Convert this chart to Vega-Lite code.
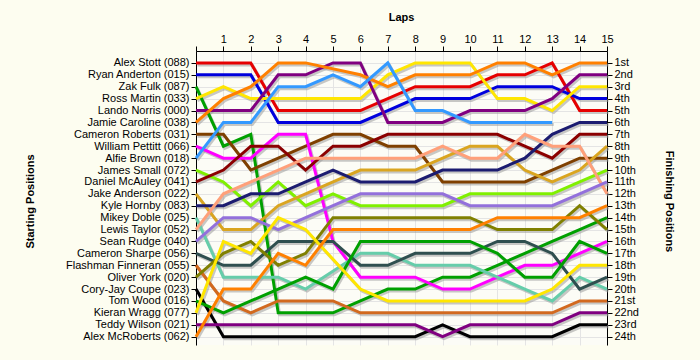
{
"$schema":"https://vega.github.io/schema/vega-lite/v6.json",
"autosize":"none",
"padding":{"left":196,"top":51,"right":93,"bottom":15},
"width":411,"height":294,
"background":"#fdfdf0",
"config":{"view":{"stroke":null,"fill":"#fcfcf6"},"font":"Liberation Sans","axis":{"labelFont":"Liberation Sans","titleFont":"Liberation Sans","labelColor":"#000","titleColor":"#000","labelFontSize":11,"titleFontSize":11,"titleFontWeight":"bold","domainColor":"#000","tickColor":"#000","tickSize":5,"gridColor":"#e4e4e4"}},
"data":{"values":[
{"c":"088","l":0,"p":1},{"c":"088","l":1,"p":1},{"c":"088","l":2,"p":1},{"c":"088","l":3,"p":5},{"c":"088","l":4,"p":5},{"c":"088","l":5,"p":5},{"c":"088","l":6,"p":5},{"c":"088","l":7,"p":4},{"c":"088","l":8,"p":3},{"c":"088","l":9,"p":3},{"c":"088","l":10,"p":3},{"c":"088","l":11,"p":2},{"c":"088","l":12,"p":2},{"c":"088","l":13,"p":1},{"c":"088","l":14,"p":5},{"c":"088","l":15,"p":5},
{"c":"015","l":0,"p":2},{"c":"015","l":1,"p":2},{"c":"015","l":2,"p":2},{"c":"015","l":3,"p":6},{"c":"015","l":4,"p":6},{"c":"015","l":5,"p":6},{"c":"015","l":6,"p":6},{"c":"015","l":7,"p":5},{"c":"015","l":8,"p":4},{"c":"015","l":9,"p":4},{"c":"015","l":10,"p":4},{"c":"015","l":11,"p":3},{"c":"015","l":12,"p":3},{"c":"015","l":13,"p":3},{"c":"015","l":14,"p":4},{"c":"015","l":15,"p":4},
{"c":"087","l":0,"p":3},{"c":"087","l":1,"p":8},{"c":"087","l":2,"p":7},{"c":"087","l":3,"p":22},{"c":"087","l":4,"p":22},{"c":"087","l":5,"p":22},{"c":"087","l":6,"p":21},{"c":"087","l":7,"p":20},{"c":"087","l":8,"p":20},{"c":"087","l":9,"p":19},{"c":"087","l":10,"p":19},{"c":"087","l":11,"p":18},{"c":"087","l":12,"p":17},{"c":"087","l":13,"p":16},{"c":"087","l":14,"p":15},{"c":"087","l":15,"p":14},
{"c":"033","l":0,"p":4},{"c":"033","l":1,"p":3},{"c":"033","l":2,"p":4},{"c":"033","l":3,"p":4},{"c":"033","l":4,"p":4},{"c":"033","l":5,"p":4},{"c":"033","l":6,"p":4},{"c":"033","l":7,"p":2},{"c":"033","l":8,"p":1},{"c":"033","l":9,"p":1},{"c":"033","l":10,"p":1},{"c":"033","l":11,"p":4},{"c":"033","l":12,"p":4},{"c":"033","l":13,"p":5},{"c":"033","l":14,"p":3},{"c":"033","l":15,"p":3},
{"c":"000","l":0,"p":5},{"c":"000","l":1,"p":5},{"c":"000","l":2,"p":5},{"c":"000","l":3,"p":2},{"c":"000","l":4,"p":2},{"c":"000","l":5,"p":1},{"c":"000","l":6,"p":1},{"c":"000","l":7,"p":6},{"c":"000","l":8,"p":6},{"c":"000","l":9,"p":6},{"c":"000","l":10,"p":5},{"c":"000","l":11,"p":5},{"c":"000","l":12,"p":5},{"c":"000","l":13,"p":4},{"c":"000","l":14,"p":2},{"c":"000","l":15,"p":2},
{"c":"038","l":0,"p":6},{"c":"038","l":1,"p":4},{"c":"038","l":2,"p":3},{"c":"038","l":3,"p":1},{"c":"038","l":4,"p":1},{"c":"038","l":6,"p":2},{"c":"038","l":7,"p":3},{"c":"038","l":8,"p":2},{"c":"038","l":9,"p":2},{"c":"038","l":10,"p":2},{"c":"038","l":11,"p":1},{"c":"038","l":12,"p":1},{"c":"038","l":13,"p":2},{"c":"038","l":14,"p":1},{"c":"038","l":15,"p":1},
{"c":"031","l":0,"p":7},{"c":"031","l":1,"p":7},{"c":"031","l":2,"p":10},{"c":"031","l":3,"p":9},{"c":"031","l":4,"p":8},{"c":"031","l":5,"p":7},{"c":"031","l":6,"p":7},{"c":"031","l":7,"p":8},{"c":"031","l":8,"p":8},{"c":"031","l":9,"p":11},{"c":"031","l":10,"p":11},{"c":"031","l":11,"p":11},{"c":"031","l":12,"p":11},{"c":"031","l":13,"p":10},{"c":"031","l":14,"p":9},{"c":"031","l":15,"p":9},
{"c":"066","l":0,"p":8},{"c":"066","l":1,"p":9},{"c":"066","l":2,"p":9},{"c":"066","l":3,"p":7},{"c":"066","l":4,"p":7},{"c":"066","l":5,"p":16},{"c":"066","l":6,"p":19},{"c":"066","l":7,"p":19},{"c":"066","l":8,"p":19},{"c":"066","l":9,"p":20},{"c":"066","l":10,"p":20},{"c":"066","l":11,"p":19},{"c":"066","l":12,"p":18},{"c":"066","l":13,"p":18},{"c":"066","l":14,"p":17},{"c":"066","l":15,"p":16},
{"c":"018","l":0,"p":9},{"c":"018","l":1,"p":6},{"c":"018","l":2,"p":6},{"c":"018","l":3,"p":3},{"c":"018","l":4,"p":3},{"c":"018","l":5,"p":2},{"c":"018","l":6,"p":3},{"c":"018","l":7,"p":1},{"c":"018","l":8,"p":5},{"c":"018","l":9,"p":5},{"c":"018","l":10,"p":6},{"c":"018","l":11,"p":6},{"c":"018","l":12,"p":6},{"c":"018","l":13,"p":6},
{"c":"072","l":0,"p":10},{"c":"072","l":1,"p":11},{"c":"072","l":2,"p":13},{"c":"072","l":3,"p":11},{"c":"072","l":4,"p":13},{"c":"072","l":5,"p":12},{"c":"072","l":6,"p":13},{"c":"072","l":7,"p":13},{"c":"072","l":8,"p":13},{"c":"072","l":9,"p":13},{"c":"072","l":10,"p":12},{"c":"072","l":11,"p":12},{"c":"072","l":12,"p":12},{"c":"072","l":13,"p":12},{"c":"072","l":14,"p":11},{"c":"072","l":15,"p":10},
{"c":"041","l":0,"p":11},{"c":"041","l":1,"p":10},{"c":"041","l":2,"p":8},{"c":"041","l":3,"p":8},{"c":"041","l":4,"p":10},{"c":"041","l":5,"p":8},{"c":"041","l":6,"p":8},{"c":"041","l":7,"p":7},{"c":"041","l":8,"p":7},{"c":"041","l":9,"p":7},{"c":"041","l":10,"p":7},{"c":"041","l":11,"p":7},{"c":"041","l":12,"p":8},{"c":"041","l":13,"p":9},{"c":"041","l":14,"p":7},{"c":"041","l":15,"p":7},
{"c":"022","l":0,"p":12},{"c":"022","l":1,"p":15},{"c":"022","l":2,"p":15},{"c":"022","l":3,"p":13},{"c":"022","l":4,"p":12},{"c":"022","l":5,"p":11},{"c":"022","l":6,"p":10},{"c":"022","l":7,"p":10},{"c":"022","l":8,"p":10},{"c":"022","l":9,"p":9},{"c":"022","l":10,"p":8},{"c":"022","l":11,"p":8},{"c":"022","l":12,"p":10},{"c":"022","l":13,"p":11},{"c":"022","l":14,"p":10},{"c":"022","l":15,"p":8},
{"c":"083","l":0,"p":13},{"c":"083","l":1,"p":13},{"c":"083","l":2,"p":12},{"c":"083","l":3,"p":12},{"c":"083","l":4,"p":11},{"c":"083","l":5,"p":10},{"c":"083","l":6,"p":11},{"c":"083","l":7,"p":11},{"c":"083","l":8,"p":11},{"c":"083","l":9,"p":10},{"c":"083","l":10,"p":10},{"c":"083","l":11,"p":10},{"c":"083","l":12,"p":9},{"c":"083","l":13,"p":7},{"c":"083","l":14,"p":6},{"c":"083","l":15,"p":6},
{"c":"025","l":0,"p":14},{"c":"025","l":1,"p":19},{"c":"025","l":2,"p":19},{"c":"025","l":3,"p":19},{"c":"025","l":4,"p":20},{"c":"025","l":6,"p":17},{"c":"025","l":7,"p":17},{"c":"025","l":8,"p":18},{"c":"025","l":9,"p":18},{"c":"025","l":10,"p":18},{"c":"025","l":12,"p":20},{"c":"025","l":13,"p":21},{"c":"025","l":14,"p":19},{"c":"025","l":15,"p":20},
{"c":"052","l":0,"p":15},{"c":"052","l":1,"p":12},{"c":"052","l":2,"p":11},{"c":"052","l":3,"p":10},{"c":"052","l":4,"p":9},{"c":"052","l":5,"p":9},{"c":"052","l":6,"p":9},{"c":"052","l":7,"p":9},{"c":"052","l":8,"p":9},{"c":"052","l":9,"p":8},{"c":"052","l":10,"p":9},{"c":"052","l":11,"p":9},{"c":"052","l":12,"p":7},{"c":"052","l":13,"p":8},{"c":"052","l":14,"p":8},{"c":"052","l":15,"p":12},
{"c":"040","l":0,"p":16},{"c":"040","l":1,"p":14},{"c":"040","l":2,"p":14},{"c":"040","l":3,"p":15},{"c":"040","l":4,"p":14},{"c":"040","l":5,"p":13},{"c":"040","l":6,"p":12},{"c":"040","l":7,"p":12},{"c":"040","l":8,"p":12},{"c":"040","l":9,"p":12},{"c":"040","l":10,"p":13},{"c":"040","l":11,"p":13},{"c":"040","l":12,"p":13},{"c":"040","l":13,"p":13},{"c":"040","l":14,"p":12},{"c":"040","l":15,"p":11},
{"c":"056","l":0,"p":17},{"c":"056","l":1,"p":18},{"c":"056","l":2,"p":18},{"c":"056","l":3,"p":16},{"c":"056","l":4,"p":16},{"c":"056","l":5,"p":16},{"c":"056","l":6,"p":18},{"c":"056","l":7,"p":18},{"c":"056","l":8,"p":17},{"c":"056","l":9,"p":17},{"c":"056","l":10,"p":17},{"c":"056","l":11,"p":16},{"c":"056","l":12,"p":16},{"c":"056","l":13,"p":17},{"c":"056","l":14,"p":20},{"c":"056","l":15,"p":19},
{"c":"055","l":0,"p":18},{"c":"055","l":1,"p":21},{"c":"055","l":2,"p":22},{"c":"055","l":3,"p":21},{"c":"055","l":4,"p":21},{"c":"055","l":5,"p":21},{"c":"055","l":6,"p":22},{"c":"055","l":7,"p":22},{"c":"055","l":8,"p":22},{"c":"055","l":9,"p":22},{"c":"055","l":10,"p":22},{"c":"055","l":11,"p":22},{"c":"055","l":12,"p":22},{"c":"055","l":13,"p":22},{"c":"055","l":14,"p":21},{"c":"055","l":15,"p":21},
{"c":"020","l":0,"p":19},{"c":"020","l":1,"p":17},{"c":"020","l":2,"p":16},{"c":"020","l":3,"p":18},{"c":"020","l":4,"p":17},{"c":"020","l":5,"p":14},{"c":"020","l":6,"p":14},{"c":"020","l":7,"p":14},{"c":"020","l":8,"p":14},{"c":"020","l":9,"p":14},{"c":"020","l":10,"p":14},{"c":"020","l":11,"p":15},{"c":"020","l":12,"p":15},{"c":"020","l":13,"p":15},{"c":"020","l":14,"p":13},{"c":"020","l":15,"p":15},
{"c":"023","l":0,"p":20},{"c":"023","l":1,"p":24},{"c":"023","l":2,"p":24},{"c":"023","l":3,"p":24},{"c":"023","l":4,"p":24},{"c":"023","l":5,"p":24},{"c":"023","l":6,"p":24},{"c":"023","l":7,"p":24},{"c":"023","l":8,"p":24},{"c":"023","l":9,"p":23},{"c":"023","l":10,"p":24},{"c":"023","l":11,"p":24},{"c":"023","l":12,"p":24},{"c":"023","l":13,"p":24},{"c":"023","l":14,"p":23},{"c":"023","l":15,"p":23},
{"c":"016","l":0,"p":21},{"c":"016","l":1,"p":22},{"c":"016","l":2,"p":21},{"c":"016","l":3,"p":20},{"c":"016","l":4,"p":19},{"c":"016","l":5,"p":20},{"c":"016","l":6,"p":16},{"c":"016","l":7,"p":16},{"c":"016","l":8,"p":16},{"c":"016","l":9,"p":16},{"c":"016","l":10,"p":16},{"c":"016","l":11,"p":17},{"c":"016","l":12,"p":19},{"c":"016","l":13,"p":19},{"c":"016","l":14,"p":16},{"c":"016","l":15,"p":17},
{"c":"077","l":0,"p":22},{"c":"077","l":1,"p":16},{"c":"077","l":2,"p":17},{"c":"077","l":3,"p":14},{"c":"077","l":4,"p":15},{"c":"077","l":6,"p":20},{"c":"077","l":7,"p":21},{"c":"077","l":8,"p":21},{"c":"077","l":9,"p":21},{"c":"077","l":10,"p":21},{"c":"077","l":11,"p":21},{"c":"077","l":12,"p":21},{"c":"077","l":13,"p":20},{"c":"077","l":14,"p":18},{"c":"077","l":15,"p":18},
{"c":"021","l":0,"p":23},{"c":"021","l":1,"p":23},{"c":"021","l":2,"p":23},{"c":"021","l":3,"p":23},{"c":"021","l":4,"p":23},{"c":"021","l":5,"p":23},{"c":"021","l":6,"p":23},{"c":"021","l":7,"p":23},{"c":"021","l":8,"p":23},{"c":"021","l":9,"p":24},{"c":"021","l":10,"p":23},{"c":"021","l":11,"p":23},{"c":"021","l":12,"p":23},{"c":"021","l":13,"p":23},{"c":"021","l":14,"p":22},{"c":"021","l":15,"p":22},
{"c":"062","l":0,"p":24},{"c":"062","l":1,"p":20},{"c":"062","l":2,"p":20},{"c":"062","l":3,"p":17},{"c":"062","l":4,"p":18},{"c":"062","l":5,"p":15},{"c":"062","l":6,"p":15},{"c":"062","l":7,"p":15},{"c":"062","l":8,"p":15},{"c":"062","l":9,"p":15},{"c":"062","l":10,"p":15},{"c":"062","l":11,"p":14},{"c":"062","l":12,"p":14},{"c":"062","l":13,"p":14},{"c":"062","l":14,"p":14},{"c":"062","l":15,"p":13}
]},
"encoding":{
"x":{"field":"l","type":"quantitative","scale":{"domain":[0,15],"nice":false,"zero":false},
"axis":{"orient":"top","values":[0,1,2,3,4,5,6,7,8,9,10,11,12,13,14,15],"labelExpr":"datum.value==0?'':datum.value","title":"Laps","titleX":205,"titleY":-29,"titleAlign":"center","labelPadding":2,"grid":true,"labelFlush":false}}
},
"layer":[
{"mark":{"type":"line","strokeWidth":3,"color":"#9a9a9a","opacity":0.55,"xOffset":1.5,"yOffset":2,"strokeCap":"butt"},
 "encoding":{"detail":{"field":"c"},
 "y":{"field":"p","type":"quantitative","scale":{"domain":[0,24.7],"reverse":true,"nice":false,"zero":false},
  "axis":{"orient":"left","values":[1,2,3,4,5,6,7,8,9,10,11,12,13,14,15,16,17,18,19,20,21,22,23,24],"grid":true,"labelPadding":2,
  "labelExpr":"['','Alex Stott (088)','Ryan Anderton (015)','Zak Fulk (087)','Ross Martin (033)','Lando Norris (000)','Jamie Caroline (038)','Cameron Roberts (031)','William Pettitt (066)','Alfie Brown (018)','James Small (072)','Daniel McAuley (041)','Jake Anderson (022)','Kyle Hornby (083)','Mikey Doble (025)','Lewis Taylor (052)','Sean Rudge (040)','Cameron Sharpe (056)','Flashman Finneran (055)','Oliver York (020)','Cory-Jay Coupe (023)','Tom Wood (016)','Kieran Wragg (077)','Teddy Wilson (021)','Alex McRoberts (062)'][datum.value]",
  "title":"Starting Positions","titleAngle":-90,"titleX":-166,"titleY":150,"titleAlign":"center","titleBaseline":"middle"}}}},
{"mark":{"type":"line","strokeWidth":3,"strokeCap":"butt"},
 "encoding":{
 "color":{"field":"c","type":"nominal","legend":null,"scale":{"domain":["088","015","087","033","000","038","031","066","018","072","041","022","083","025","052","040","056","055","020","023","016","077","021","062"],"range":["#e60000","#0000dd","#00a000","#ffe600","#800080","#ff8000","#7f4000","#ff00ff","#3399ff","#80f000","#8b0000","#daa520","#1c1c70","#66cdaa","#ffa07a","#9370db","#2f4f4f","#d2691e","#808000","#000000","#00a000","#ffe600","#800080","#ff8000"]}},
 "y":{"field":"p","type":"quantitative","scale":{"domain":[0,24.7],"reverse":true,"nice":false,"zero":false},
  "axis":{"orient":"right","values":[1,2,3,4,5,6,7,8,9,10,11,12,13,14,15,16,17,18,19,20,21,22,23,24],"grid":false,"labelPadding":2,
  "labelExpr":"['','1st','2nd','3rd','4th','5th','6th','7th','8th','9th','10th','11th','12th','13th','14th','15th','16th','17th','18th','19th','20th','21st','22nd','23rd','24th'][datum.value]",
  "title":"Finishing Positions","titleAngle":90,"titleX":61,"titleY":150,"titleAlign":"center","titleBaseline":"middle"}}}}
],
"resolve":{"axis":{"y":"independent"}}
}
